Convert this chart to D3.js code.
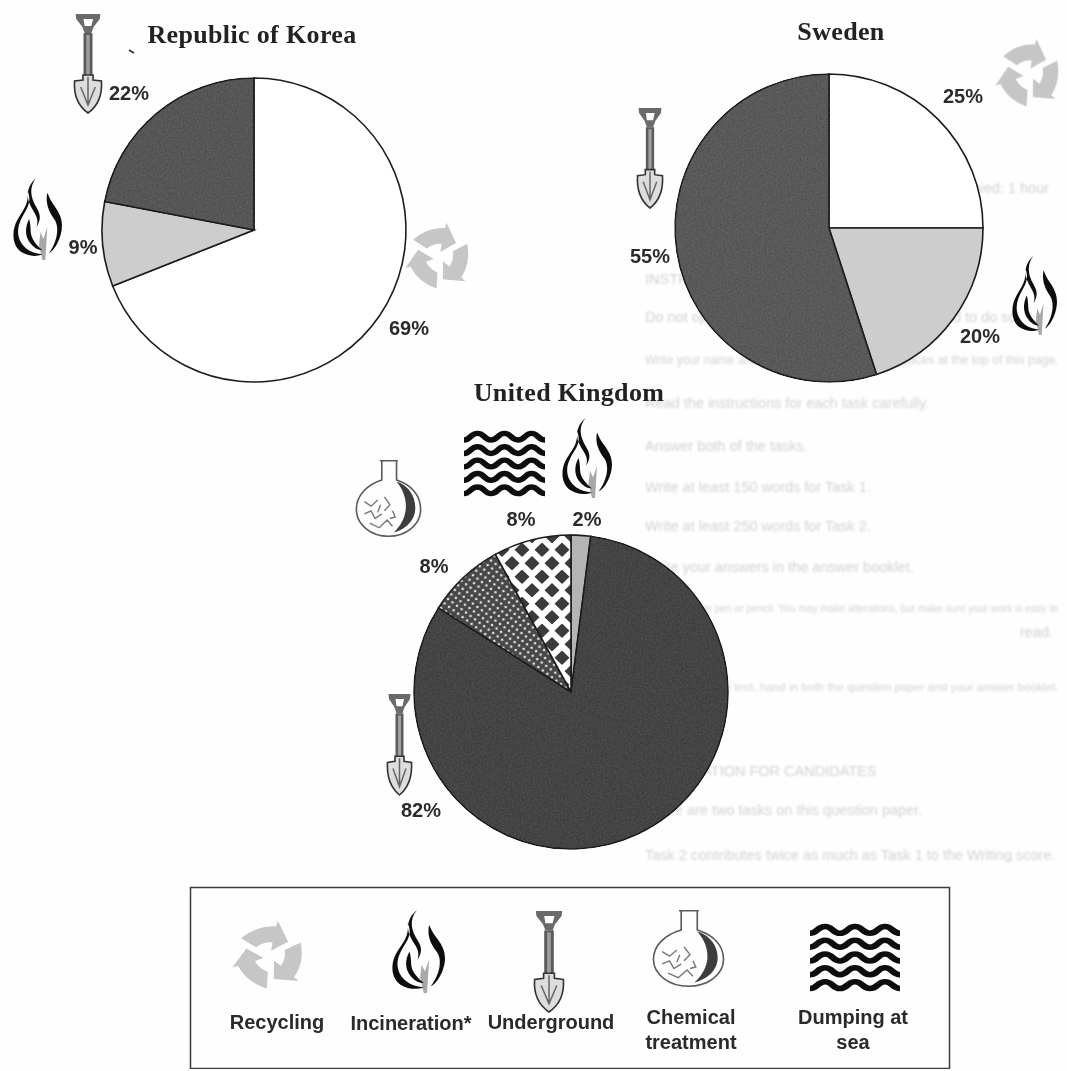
<!DOCTYPE html>
<html>
<head>
<meta charset="utf-8">
<script src="https://cdn.jsdelivr.net/npm/d3@7/dist/d3.min.js"></script>
<style>
    html, body { margin: 0; padding: 0; background: #fefefe; overflow: hidden; }
    svg { display: block; }
</style>
</head>
<body>
<script>
(function(){

    var categories = ["Recycling", "Incineration", "Underground", "Chemical", "Dumping"];

    //values go clockwise from 12 o'clock, in the order of the names next to them
    var koreaNames = ["Recycling", "Incineration", "Underground"];
    var koreaValues = [69, 9, 22];
    var swedenNames = ["Recycling", "Incineration", "Underground"];
    var swedenValues = [25, 20, 55];
    var ukNames = ["Incineration", "Underground", "Chemical", "Dumping"];
    var ukValues = [2, 82, 8, 8];

    var legendLabels = [["Recycling"], ["Incineration*"], ["Underground"], ["Chemical", "treatment"], ["Dumping at", "sea"]];

    //the page behind, showing through the paper
    var ghostLines = ["Time allowed: 1 hour", "INSTRUCTIONS TO CANDIDATES", "Do not open this question paper until you are told to do so.",
        "Write your name and candidate number in the spaces at the top of this page.",
        "Read the instructions for each task carefully.", "Answer both of the tasks.", "Write at least 150 words for Task 1.",
        "Write at least 250 words for Task 2.", "Write your answers in the answer booklet.",
        "Write clearly in pen or pencil. You may make alterations, but make sure your work is easy to", "read.",
        "At the end of the test, hand in both the question paper and your answer booklet.",
        "INFORMATION FOR CANDIDATES", "There are two tasks on this question paper.", "Task 2 contributes twice as much as Task 1 to the Writing score."];

    var w = 1067;
    var h = 1071;

    var svg = d3.select("body")
        .append("svg")
        .attr("width", w)
        .attr("height", h);

    var defs = svg.append("defs");
    makeFilters();
    makePatterns();
    makeIcons();

    var ghost = svg.append("g").attr("filter", "url(#ghostBlur)");
    var page = svg.append("g").attr("filter", "url(#scan)");

    drawGhost();
    drawPie({ names: koreaNames, values: koreaValues, cx: 254, cy: 230, r: 152, dark: "#565656", light: "#cdcdcd" });
    drawPie({ names: swedenNames, values: swedenValues, cx: 829, cy: 228, r: 154, dark: "#595959", light: "#cdcdcd" });
    drawPie({ names: ukNames, values: ukValues, cx: 571, cy: 692, r: 157, dark: "#444444", light: "#b4b4b4" });
    drawTexts();
    drawPlacedIcons();
    drawLegend();

    function drawPie(o){
        var pie = d3.pie().sort(null).value(function(d) { return d; });
        var arc = d3.arc().innerRadius(0).outerRadius(o.r);
        var fill = d3.scaleOrdinal()
            .domain(categories)
            .range(["#ffffff", o.light, o.dark, "url(#dots)", "url(#diamonds)"]);

        page.append("g")
            .attr("transform", "translate(" + o.cx + "," + o.cy + ")")
            .selectAll("path")
            .data(pie(o.values))
            .enter()
            .append("path")
            .attr("d", arc)
            .attr("fill", function(d, i) { return fill(o.names[i]); })
            .attr("stroke", "#1c1c1c")
            .attr("stroke-width", 1.6)
            .attr("filter", function(d, i) {
                return o.names[i] == "Underground" ? "url(#grain)" : null;
            });
    }

    function drawTexts(){
        var titles = [
            { t: "Republic of Korea", x: 252, y: 43 },
            { t: "Sweden", x: 841, y: 40 },
            { t: "United Kingdom", x: 569, y: 401 }
        ];
        page.selectAll("text.title")
            .data(titles)
            .enter()
            .append("text")
            .attr("class", "title")
            .attr("x", function(d) { return d.x; })
            .attr("y", function(d) { return d.y; })
            .attr("text-anchor", "middle")
            .attr("font-family", "'Liberation Serif', serif")
            .attr("font-weight", "bold")
            .attr("font-size", 26)
            .attr("letter-spacing", 0.35)
            .attr("fill", "#222")
            .text(function(d) { return d.t; });

        var labels = [
            { t: koreaValues[2] + "%", x: 129, y: 100 },
            { t: koreaValues[1] + "%", x: 83, y: 254 },
            { t: koreaValues[0] + "%", x: 409, y: 335 },
            { t: swedenValues[0] + "%", x: 963, y: 103 },
            { t: swedenValues[2] + "%", x: 650, y: 263 },
            { t: swedenValues[1] + "%", x: 980, y: 343 },
            { t: ukValues[3] + "%", x: 521, y: 526 },
            { t: ukValues[0] + "%", x: 587, y: 526 },
            { t: ukValues[2] + "%", x: 434, y: 573 },
            { t: ukValues[1] + "%", x: 421, y: 817 }
        ];
        page.selectAll("text.pct")
            .data(labels)
            .enter()
            .append("text")
            .attr("class", "pct")
            .attr("x", function(d) { return d.x; })
            .attr("y", function(d) { return d.y; })
            .attr("text-anchor", "middle")
            .attr("font-family", "'Liberation Sans', sans-serif")
            .attr("font-weight", "bold")
            .attr("font-size", 20)
            .attr("fill", "#2c2c2c")
            .text(function(d) { return d.t; });

        //the stray speck next to the Korea title
        page.append("path")
            .attr("d", "M129,50L134,53")
            .attr("stroke", "#333")
            .attr("stroke-width", 1.6);
    }

    function drawPlacedIcons(){
        var placed = [
            ["shovel", 74, 13, 28, 100], ["flame", 13, 178, 49, 82], ["recycle", 405, 222, 68, 68],
            ["recycle", 995, 38, 68, 70], ["shovel", 637, 107, 26, 101], ["flame", 1012, 256, 45, 79],
            ["waves", 464, 430, 81, 67], ["flame", 562, 418, 50, 80], ["flask", 355, 460, 67, 77], ["shovel", 387, 693, 25, 102]
        ];
        placed.forEach(placeIcon);
    }

    function placeIcon(d){
        page.append("use")
            .attr("href", "#" + d[0])
            .attr("transform", "translate(" + d[1] + "," + d[2] + ") scale(" + (d[3] / 100) + "," + (d[4] / 100) + ")");
    }

    function drawLegend(){
        page.append("rect")
            .attr("x", 190.5)
            .attr("y", 887.5)
            .attr("width", 759)
            .attr("height", 181)
            .attr("fill", "none")
            .attr("stroke", "#3a3a3a")
            .attr("stroke-width", 1.5);

        var items = [
            { icon: "recycle", box: [232, 920, 75, 70], x: 277, y: 1029 },
            { icon: "flame", box: [392, 910, 53, 83], x: 411, y: 1030 },
            { icon: "shovel", box: [534, 910, 30, 102], x: 551, y: 1029 },
            { icon: "flask", box: [652, 910, 73, 77], x: 691, y: 1024 },
            { icon: "waves", box: [810, 923, 90, 69], x: 853, y: 1024 }
        ];
        items.forEach(function(d, i) {
            placeIcon([d.icon].concat(d.box));
            legendLabels[i].forEach(function(line, j) {
                page.append("text")
                    .attr("x", d.x)
                    .attr("y", d.y + j * 25)
                    .attr("text-anchor", "middle")
                    .attr("font-family", "'Liberation Sans', sans-serif")
                    .attr("font-weight", "bold")
                    .attr("font-size", 20)
                    .attr("fill", "#2a2a2a")
                    .text(line);
            });
        });
    }

    function drawGhost(){
        var x = [915, 645, 645, 645, 645, 645, 645, 645, 645, 645, 1020, 645, 645, 645, 645];
        var y = [193, 284, 322, 364, 408, 451, 492, 531, 572, 612, 637, 691, 776, 815, 860];
        ghost.selectAll("text")
            .data(ghostLines)
            .enter()
            .append("text")
            .attr("x", function(d, i) { return x[i]; })
            .attr("y", function(d, i) { return y[i]; })
            .attr("font-family", "'Liberation Sans', sans-serif")
            .attr("font-size", 14.5)
            .attr("fill", "#d2d2d2")
            .text(function(d) { return d; })
            .each(function(d, i) {
                //shrink the long lines so they stay on the page
                var room = w - 8 - x[i];
                var len = this.getComputedTextLength();
                if (len > room) {
                    d3.select(this).attr("font-size", 14.5 * room / len);
                }
            });
    }

    function makeFilters(){
        var scan = defs.append("filter").attr("id", "scan").attr("x", 0).attr("y", 0).attr("width", 1).attr("height", 1);
        scan.append("feGaussianBlur").attr("stdDeviation", 0.55);

        var gb = defs.append("filter").attr("id", "ghostBlur").attr("x", 0).attr("y", 0).attr("width", 1).attr("height", 1);
        gb.append("feGaussianBlur").attr("stdDeviation", 0.9);

        var grain = defs.append("filter").attr("id", "grain").attr("color-interpolation-filters", "sRGB");
        grain.append("feTurbulence")
            .attr("type", "fractalNoise")
            .attr("baseFrequency", 0.55)
            .attr("numOctaves", 2)
            .attr("seed", 4)
            .attr("result", "noise");
        grain.append("feColorMatrix")
            .attr("in", "noise")
            .attr("type", "matrix")
            .attr("values", "1 0 0 0 0 1 0 0 0 0 1 0 0 0 0 0 0 0 0 1")
            .attr("result", "mono");
        grain.append("feComposite")
            .attr("in", "SourceGraphic")
            .attr("in2", "mono")
            .attr("operator", "arithmetic")
            .attr("k1", 0).attr("k2", 1).attr("k3", 0.13).attr("k4", -0.065)
            .attr("result", "mix");
        grain.append("feComposite")
            .attr("in", "mix")
            .attr("in2", "SourceGraphic")
            .attr("operator", "in");
    }

    function makePatterns(){
        var dots = defs.append("pattern")
            .attr("id", "dots")
            .attr("patternUnits", "userSpaceOnUse")
            .attr("width", 8)
            .attr("height", 8)
            .attr("patternTransform", "translate(571,692) rotate(-8)");
        dots.append("rect").attr("width", 8).attr("height", 8).attr("fill", "#474747");
        dots.append("circle").attr("cx", 2).attr("cy", 2).attr("r", 1.35).attr("fill", "#e2e2e2");
        dots.append("circle").attr("cx", 6).attr("cy", 6).attr("r", 1.35).attr("fill", "#e2e2e2");

        var diamonds = defs.append("pattern")
            .attr("id", "diamonds")
            .attr("patternUnits", "userSpaceOnUse")
            .attr("width", 20)
            .attr("height", 27)
            .attr("patternTransform", "translate(561,553)");
        diamonds.append("rect").attr("width", 20).attr("height", 27).attr("fill", "#ffffff");
        diamonds.append("path")
            .attr("d", "M10,-0.5L17.5,6.75L10,14L2.5,6.75ZM0,13L7.5,20.25L0,27.5L-7.5,20.25ZM20,13L27.5,20.25L20,27.5L12.5,20.25Z")
            .attr("fill", "#3a3a3a");
    }

    //all icons are drawn into a 100x100 box, and stretched into place by placeIcon
    function makeIcons(){
        var shovel = defs.append("g").attr("id", "shovel");
        shovel.append("path")
            .attr("d", "M6,1L94,1L92,6L70,14L62,20L38,20L30,14L8,6Z M34,6L38,13L62,13L68,6Z")
            .attr("fill", "#6a6a6a")
            .attr("fill-rule", "evenodd");
        shovel.append("rect").attr("x", 34).attr("y", 20).attr("width", 32).attr("height", 42)
            .attr("fill", "#5c5c5c");
        shovel.append("rect").attr("x", 44).attr("y", 22).attr("width", 12).attr("height", 40)
            .attr("fill", "#a0a0a0");
        shovel.append("path")
            .attr("d", "M32,62L68,62L68,67L98,68C102,84 80,94 50,100C20,94 -2,84 2,68L32,67Z")
            .attr("fill", "#dddddd")
            .attr("stroke", "#333")
            .attr("stroke-width", 1.6)
            .attr("vector-effect", "non-scaling-stroke");
        shovel.append("path")
            .attr("d", "M24,74L50,92L76,74M50,64L50,92")
            .attr("fill", "none")
            .attr("stroke", "#666")
            .attr("stroke-width", 1.5)
            .attr("vector-effect", "non-scaling-stroke");

        var flame = defs.append("g").attr("id", "flame");
        flame.append("path")
            .attr("d", "M56,66L62,74L70,60L66,100L60,100L53,82Z")
            .attr("fill", "#a8a8a8");
        flame.append("path")
            .attr("d", "M47,0C32,12 36,24 48,36C56,44 58,50 48,60C54,48 44,44 36,34C24,20 32,8 47,0Z" +
                "M30,16C32,32 22,38 10,50C-4,64 -2,82 16,90C32,96 48,96 60,93C40,92 24,88 14,76C6,64 12,54 24,42C34,32 36,26 30,16Z" +
                "M33,50C24,60 24,72 36,80C44,86 52,88 60,88C48,82 36,74 36,64C36,60 35,54 33,50Z" +
                "M70,18C66,30 72,40 84,50C96,60 90,78 73,92C86,88 100,72 100,58C100,44 86,36 78,28C74,24 72,20 70,18Z")
            .attr("fill", "#111");

        var recycle = defs.append("g").attr("id", "recycle");
        d3.range(3).forEach(function(i) {
            recycle.append("path")
                .attr("d", "M12,26Q34,7 59,9L61,1L75,31L52,44L54,32Q42,31 32,39Z")
                .attr("fill", "#c6c6c6")
                .attr("transform", "rotate(" + (i * 120) + " 50 52)");
        });

        var flask = defs.append("g").attr("id", "flask");
        flask.append("path")
            .attr("d", "M37,1L64,1M40,1L40,26C18,32 2,46 2,64C2,84 24,99 50,99C76,99 98,84 98,64C98,46 84,32 62,26L62,1")
            .attr("fill", "none")
            .attr("stroke", "#5a5a5a")
            .attr("stroke-width", 1.6)
            .attr("vector-effect", "non-scaling-stroke");
        flask.append("path")
            .attr("d", "M62,28C78,32 90,46 90,62C90,78 76,90 58,94C70,84 76,72 76,60C76,48 70,36 62,28Z")
            .attr("fill", "#3c3c3c");
        flask.append("path")
            .attr("d", "M14,54L24,60L34,52M44,48L52,58L44,66M14,70L24,66L30,76L40,70M22,82L36,88L48,78L56,86M38,58L34,68M56,66L60,74L52,76")
            .attr("fill", "none")
            .attr("stroke", "#777")
            .attr("stroke-width", 1.4)
            .attr("vector-effect", "non-scaling-stroke");

        var waves = defs.append("g").attr("id", "waves");
        d3.range(5).forEach(function(i) {
            var y = 10 + i * 20;
            var a = y + 5;
            var b = y - 5;
            waves.append("path")
                .attr("d", "M0," + a + "C8," + a + " 8," + b + " 16.7," + b + "S25," + a + " 33.3," + a + "S41.6," + b + " 50," + b +
                    "S58," + a + " 66.7," + a + "S75," + b + " 83.3," + b + "S91.6," + a + " 100," + a)
                .attr("fill", "none")
                .attr("stroke", "#101010")
                .attr("stroke-width", 8);
        });
    }
}());
</script>
</body>
</html>
